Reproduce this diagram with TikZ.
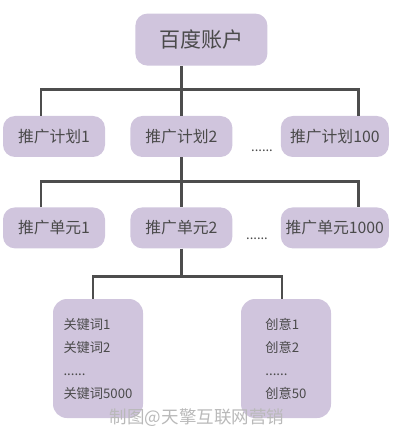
\documentclass[tikz,border=0pt]{standalone}
\usepackage{fontspec}
\newfontfamily\cjk{Noto Sans CJK SC}
\usetikzlibrary{positioning}
\definecolor{boxfill}{RGB}{208,197,221}
\definecolor{ink}{RGB}{74,74,74}
\definecolor{wire}{RGB}{77,77,77}

\begin{document}
\begin{tikzpicture}[
  x=1pt,y=-1pt,
  node distance=50pt and 25pt,
  box/.style={fill=boxfill,rounded corners=12pt,text=ink,inner sep=0pt,
    minimum width=102pt,minimum height=41pt,font=\cjk\fontsize{15.8}{18}\selectfont},
  top/.style={box,minimum width=132pt,minimum height=52pt,font=\cjk\fontsize{21}{24}\selectfont},
  leaf/.style={box,rounded corners=14pt,minimum width=90pt,minimum height=119pt,
    align=left,font=\cjk\fontsize{13.2}{23}\selectfont},
  more/.style={text=ink,inner sep=0pt,anchor=base,font=\cjk\fontsize{13}{15}\selectfont},
  link/.style={draw=wire,line width=2.8pt}
    ]
    \useasboundingbox (0,0) rectangle (400,435);
    \node[box] (plan1) at (54,136.5) {推广计划1};
    \node[box,right=of plan1] (plan2) {推广计划2};
    \node[box,minimum width=108pt,right=48pt of plan2] (plan100) {推广计划100};
    \node[top,above=of plan2,xshift=20pt] (acct) {百度账户};
    \node[box,below=of plan1] (unit1) {推广单元1};
    \node[box,below=of plan2] (unit2) {推广单元2};
    \node[box,minimum width=108pt,below=of plan100] (unit1000) {推广单元1000};
    \node[leaf] (kw) at (98,358.5) {关键词1\\关键词2\\......\\关键词5000};
    \node[leaf] (cr) at (286,358.5) {创意1\\创意2\\......\\创意50};
    \node[more] (dots1) at (262,152) {......};
    \node[more] (dots2) at (257,239) {......};
    % forks
    \coordinate (fork1) at ([yshift=-24pt]acct.south -| plan2.north);
    \coordinate (fork2) at ([yshift=-24pt]plan2.south);
    \coordinate (fork3) at ([yshift=-28pt]unit2.south);
    \path[link] (acct.south -| plan2.north) -- (plan2.north)
    ([xshift=-13pt]plan1.north) |- (fork1) -| ([xshift=24pt]plan100.north)
    (plan2.south) -- (unit2.north)
    ([xshift=-13pt]unit1.north) |- (fork2) -| ([xshift=24pt]unit1000.north)
    (unit2.south) -- (fork3)
    ([xshift=-5pt]kw.north) |- (fork3) -| ([xshift=-4pt]cr.north);
    \node[text=gray!55,font=\cjk\fontsize{17.5}{20}\selectfont] (mark) at (197,418)
      {制图@天擎互联网营销};
\end{tikzpicture}
\end{document}
